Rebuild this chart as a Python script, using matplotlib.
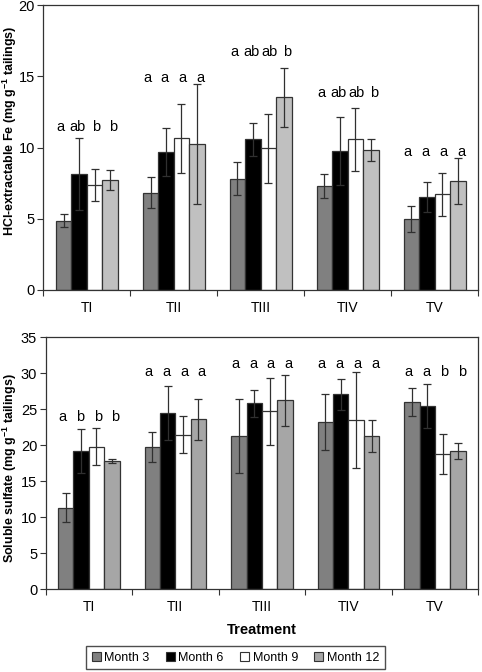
import matplotlib
matplotlib.use("Agg")
import matplotlib.pyplot as plt
import numpy as np
from matplotlib.patches import Patch

plt.rcParams['font.family'] = ['Liberation Sans', 'DejaVu Sans']
plt.rcParams['mathtext.fontset'] = 'custom'
plt.rcParams['mathtext.rm'] = 'Liberation Sans'
plt.rcParams['mathtext.bf'] = 'Liberation Sans:bold'

treatments = ["TI", "TII", "TIII", "TIV", "TV"]
months = ["Month 3", "Month 6", "Month 9", "Month 12"]

fe_vals = {
    "Month 3": [4.85, 6.83, 7.81, 7.32, 4.96],
    "Month 6": [8.14, 9.68, 10.57, 9.75, 6.53],
    "Month 9": [7.35, 10.64, 9.94, 10.57, 6.71],
    "Month 12": [7.70, 10.25, 13.52, 9.80, 7.63],
}
fe_err = {
    "Month 3": [0.45, 1.10, 1.15, 0.83, 0.90],
    "Month 6": [2.55, 1.68, 1.15, 2.40, 1.03],
    "Month 9": [1.13, 2.42, 2.40, 2.20, 1.50],
    "Month 12": [0.70, 4.20, 2.05, 0.77, 1.60],
}
fe_letters = [["a", "ab", "b", "b"], ["a", "a", "a", "a"], ["a", "ab", "ab", "b"],
              ["a", "ab", "ab", "b"], ["a", "a", "a", "a"]]
fe_letter_y = [11.45, 14.9, 16.7, 13.85, 9.7]

so4_vals = {
    "Month 3": [11.34, 19.81, 21.34, 23.19, 26.02],
    "Month 6": [19.21, 24.44, 25.83, 27.08, 25.42],
    "Month 9": [19.81, 21.48, 24.72, 23.47, 18.80],
    "Month 12": [17.82, 23.60, 26.25, 21.34, 19.21],
}
so4_err = {
    "Month 3": [2.0, 2.1, 5.15, 3.9, 2.0],
    "Month 6": [3.0, 3.75, 1.9, 2.2, 3.05],
    "Month 9": [2.6, 2.6, 4.65, 6.65, 2.8],
    "Month 12": [0.27, 2.85, 3.55, 2.2, 1.1],
}
so4_letters = [["a", "b", "b", "b"], ["a", "a", "a", "a"], ["a", "a", "a", "a"],
               ["a", "a", "a", "a"], ["a", "a", "b", "b"]]
so4_letter_y = [23.98, 30.23, 31.25, 31.25, 30.23]

fig = plt.figure(figsize=(4.82, 6.72), dpi=100)
ax1 = fig.add_axes([0.0899, 0.5685, 0.902, 0.424])
ax2 = fig.add_axes([0.0944, 0.123, 0.898, 0.375])

bw = 0.178
x = np.arange(len(treatments))
offsets = (np.arange(4) - 1.5) * bw
edge = '#333333'


def draw(ax, vals, errs, letters, letter_y, colors, ymax, ystep, ylabel, lab_xy):
    for i, m in enumerate(months):
        ax.bar(x + offsets[i], vals[m], width=bw, color=colors[i], edgecolor=edge,
               linewidth=0.9, zorder=2)
        ax.errorbar(x + offsets[i], vals[m], yerr=errs[m], fmt='none', ecolor='#303030',
                    elinewidth=0.9, capsize=3, capthick=0.9, zorder=3)
    for g in range(len(treatments)):
        for i in range(4):
            ax.text(x[g] + offsets[i] * 1.15, letter_y[g], letters[g][i], ha='center',
                    va='center', fontsize=10.5, color='black')
    ax.set_xlim(-0.5, len(treatments) - 0.5)
    ax.set_ylim(0, ymax)
    ax.set_yticks(np.arange(0, ymax + 0.1, ystep))
    ax.set_xticks(x)
    ax.set_xticklabels(treatments, fontsize=10)
    ax.set_xticks(np.arange(-0.5, len(treatments), 1.0), minor=True)
    ax.tick_params(axis='x', which='major', length=0, pad=8)
    ax.tick_params(axis='x', which='minor', length=4, direction='out', width=0.8, color='#333333')
    ax.tick_params(axis='y', length=4, direction='out', width=0.8, labelsize=10.5, pad=2,
                   color='#333333')
    for s in ax.spines.values():
        s.set_color('#333333')
        s.set_linewidth(0.9)
    ax.set_ylabel(ylabel, fontsize=9, fontweight='bold')
    ax.yaxis.set_label_coords(*lab_xy)
    ax.yaxis.label.set_verticalalignment('center')


draw(ax1, fe_vals, fe_err, fe_letters, fe_letter_y,
     ['#808080', '#000000', '#ffffff', '#c0c0c0'], 20, 5,
     r'HCl-extractable Fe (mg g$^{\mathbf{-1}}$ tailings)', (-0.077, 0.56))
draw(ax2, so4_vals, so4_err, so4_letters, so4_letter_y,
     ['#808080', '#000000', '#ffffff', '#a6a6a6'], 35, 5,
     r'Soluble sulfate (mg g$^{\mathbf{-1}}$ tailings)', (-0.082, 0.48))
ax2.set_xlabel('Treatment', fontsize=10.5, fontweight='bold', labelpad=6)

handles = [Patch(facecolor=c, edgecolor='#333333', linewidth=0.8)
           for c in ['#808080', '#000000', '#ffffff', '#a6a6a6']]
leg = fig.legend(handles, months, loc='center', bbox_to_anchor=(0.4886, 0.0215),
                 ncol=4, fontsize=9, frameon=True, fancybox=False, handlelength=0.7,
                 handleheight=0.7, handletextpad=0.3, columnspacing=1.3,
                 borderpad=0.45, edgecolor='#222222')
leg.get_frame().set_linewidth(1.0)

fig.savefig('out.png', dpi=100)
